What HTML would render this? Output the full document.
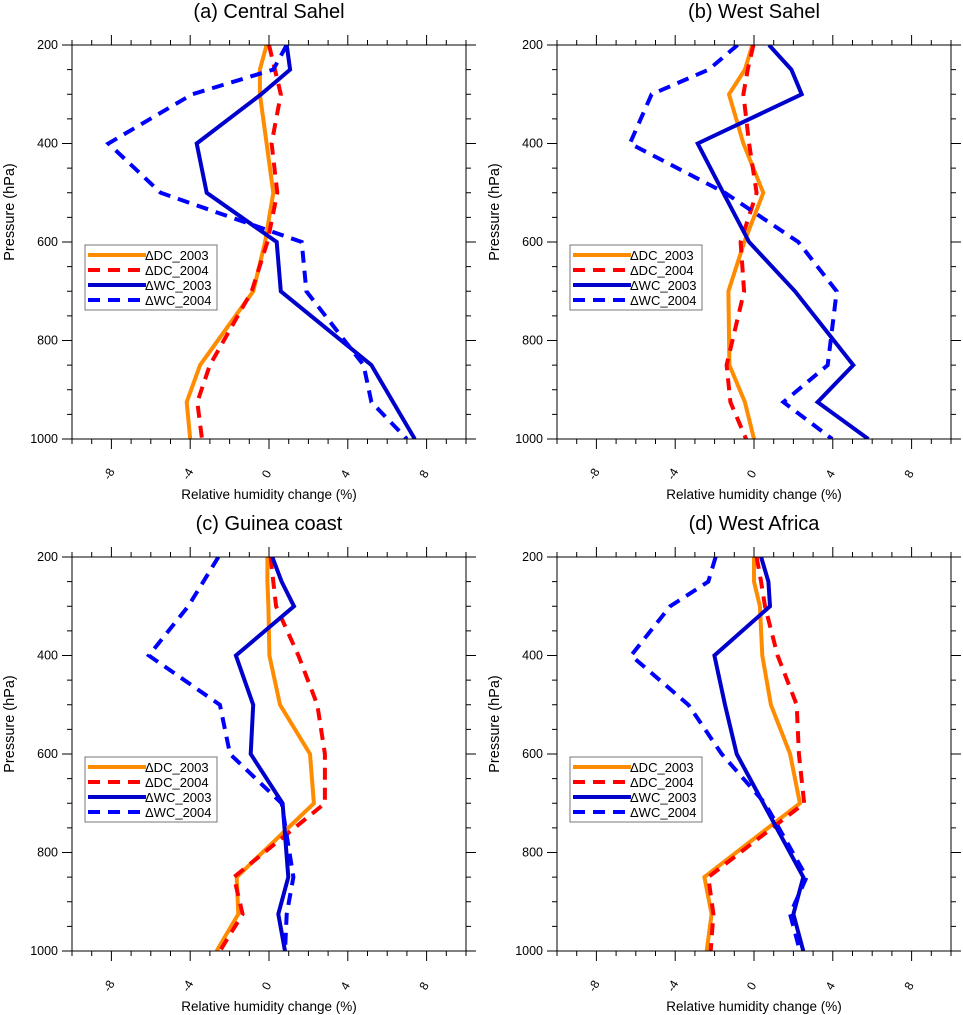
<!DOCTYPE html>
<html><head><meta charset="utf-8"><style>
body{margin:0;background:#fff;}
svg{display:block;font-family:"Liberation Sans",sans-serif;}
</style></head><body>
<svg id="fig" width="963" height="1015" viewBox="0 0 963 1015"></svg>
<script>
const levels=[200,250,300,400,500,600,700,850,925,1000];
const xTickVals=[-8,-4,0,4,8];
const yTickVals=[200,400,600,800,1000];
const seriesNames=["ΔDC_2003","ΔDC_2004","ΔWC_2003","ΔWC_2004"];
const titles=["(a) Central Sahel","(b) West Sahel","(c) Guinea coast","(d) West Africa"];
const aDC03=[-0.12,-0.46,-0.46,-0.12,0.22,-0.2,-0.8,-3.5,-4.18,-4.0];
const aDC04=[0,0.3,0.6,0.13,0.42,-0.08,-0.88,-3.0,-3.64,-3.4];
const aWC03=[0.9,1.07,-0.4,-3.67,-3.16,0.39,0.6,5.2,6.3,7.4];
const aWC04=[0.9,0.22,-3.9,-8.15,-5.5,1.66,1.9,4.8,5.2,7.0];
const bDC03=[-0.08,-0.46,-1.27,-0.54,0.47,-0.49,-1.3,-1.25,-0.46,0];
const bDC04=[-0.03,-0.32,-0.54,-0.25,0.13,-0.68,-0.5,-1.39,-1.2,-0.4];
const bWC03=[0.76,1.9,2.42,-2.86,-1.56,-0.25,2.08,5.04,3.23,5.8];
const bWC04=[-0.83,-2.3,-5.2,-6.3,-1.47,2.25,4.2,3.74,1.49,3.97];
const cDC03=[-0.08,-0.08,-0.03,0.02,0.56,2.08,2.28,-1.64,-1.56,-2.66];
const cDC04=[0.08,0.22,0.36,1.49,2.45,2.84,2.84,-1.78,-1.34,-2.49];
const cWC03=[0.17,0.64,1.27,-1.68,-0.8,-0.93,0.69,0.98,0.47,0.81];
const cWC04=[-2.57,-3.33,-4.1,-6.1,-2.49,-1.98,0.64,1.24,0.9,0.81];
const dDC03=[0,0,0.3,0.42,0.86,1.83,2.33,-2.52,-2.15,-2.4];
const dDC04=[0.13,0.36,0.56,1.2,2.17,2.28,2.55,-2.32,-2.06,-2.2];
const dWC03=[0.36,0.73,0.81,-2.01,-1.47,-0.88,0.47,2.5,2.0,2.5];
const dWC04=[-1.95,-2.32,-4.26,-6.24,-3.33,-1.64,0.56,2.67,1.83,2.33];
const panelData=[[aDC03,aDC04,aWC03,aWC04],[bDC03,bDC04,bWC03,bWC04],[cDC03,cDC04,cWC03,cWC04],[dDC03,dDC04,dWC03,dWC04]];
const styles=[{c:"#ff8c00",d:""},{c:"#ff0000",d:"12,8"},{c:"#0000cd",d:""},{c:"#0000ff",d:"12,8"}];
const origins=[[72,45],[557,45],[72,557],[557,557]];
const PW=394,PH=394;
const NS="http://www.w3.org/2000/svg";
const svg=document.getElementById('fig');
function mk(tag,attrs,parent){const e=document.createElementNS(NS,tag);for(const k in attrs)e.setAttribute(k,attrs[k]);parent.appendChild(e);return e;}
origins.forEach((o,pi)=>{
  const [x0,y0]=o;
  const X=v=>x0+(v+10)/20*PW;
  const Y=p=>y0+(p-200)/800*PH;
  const g=mk('g',{},svg);
  
  
  const t=mk('text',{x:x0+PW/2,y:y0-27,'text-anchor':'middle','font-size':'20'},g);
  t.textContent=titles[pi];
  
  
  for(let v=-10;v<=10;v++){
    const maj=(v%4===0&&Math.abs(v)<=8);
    const L=maj?10:5;
    mk('line',{x1:X(v),x2:X(v),y1:y0+PH,y2:y0+PH+L,stroke:'#000','stroke-width':1},g);
    mk('line',{x1:X(v),x2:X(v),y1:y0,y2:y0-L,stroke:'#000','stroke-width':1},g);
  }
  for(let p=200;p<=1000;p+=50){
    const maj=(p%200===0);const L=maj?10:5;
    mk('line',{x1:x0,x2:x0-L,y1:Y(p),y2:Y(p),stroke:'#000','stroke-width':1},g);
    mk('line',{x1:x0+PW,x2:x0+PW+L,y1:Y(p),y2:Y(p),stroke:'#000','stroke-width':1},g);
  }
  xTickVals.forEach(v=>{
    const tx=mk('text',{x:0,y:0,'font-size':'12','text-anchor':'middle',transform:`translate(${X(v)+1},${y0+PH+37}) rotate(-60)`},g);
    tx.textContent=String(v);
    
    
  });
  yTickVals.forEach(p=>{
    const ty=mk('text',{x:x0-14,y:Y(p)+4,'font-size':'12.5','text-anchor':'end'},g);
    ty.textContent=String(p);
    
    
  });
  const xl=mk('text',{x:x0+PW/2,y:y0+PH+60,'font-size':'13.5','text-anchor':'middle'},g);
  xl.textContent='Relative humidity change (%)';
  
  
  const yl=mk('text',{x:0,y:0,'font-size':'14.5','text-anchor':'middle',transform:`translate(${x0-58},${y0+PH/2-30}) rotate(-90)`},g);
  yl.textContent='Pressure (hPa)';
  
  
  const cid='clip'+pi;
  const cp=mk('clipPath',{id:cid},g);mk('rect',{x:x0,y:y0,width:PW,height:PH},cp);
  const sg=mk('g',{'clip-path':`url(#${cid})`},g);
  panelData[pi].forEach((arr,si)=>{
    const pts=arr.map((v,i)=>X(v).toFixed(1)+','+Y(levels[i]).toFixed(1)).join(' ');
    const pl=mk('polyline',{points:pts,fill:'none',stroke:styles[si].c,'stroke-width':4,'stroke-linejoin':'miter','stroke-dasharray':styles[si].d||'none'},sg);
    
    
  });
  mk('rect',{x:x0,y:y0,width:PW,height:PH,fill:'none',stroke:'#000','stroke-width':1},g);
  const lg=mk('g',{},g);
  
  
  const lx=x0+13,ly=y0+200;
  mk('rect',{x:lx,y:ly,width:132,height:65,fill:'#fff',stroke:'#777','stroke-width':1},lg);
  seriesNames.forEach((n,si)=>{
    const yy=ly+10+si*15;
    mk('line',{x1:lx+3,x2:lx+61,y1:yy,y2:yy,stroke:styles[si].c,'stroke-width':4,'stroke-dasharray':styles[si].d||'none'},lg);
    const lt=mk('text',{x:lx+60,y:yy+5,'font-size':'13'},lg);
    lt.textContent=n;
    
    
  });
});
</script>
</body></html>
